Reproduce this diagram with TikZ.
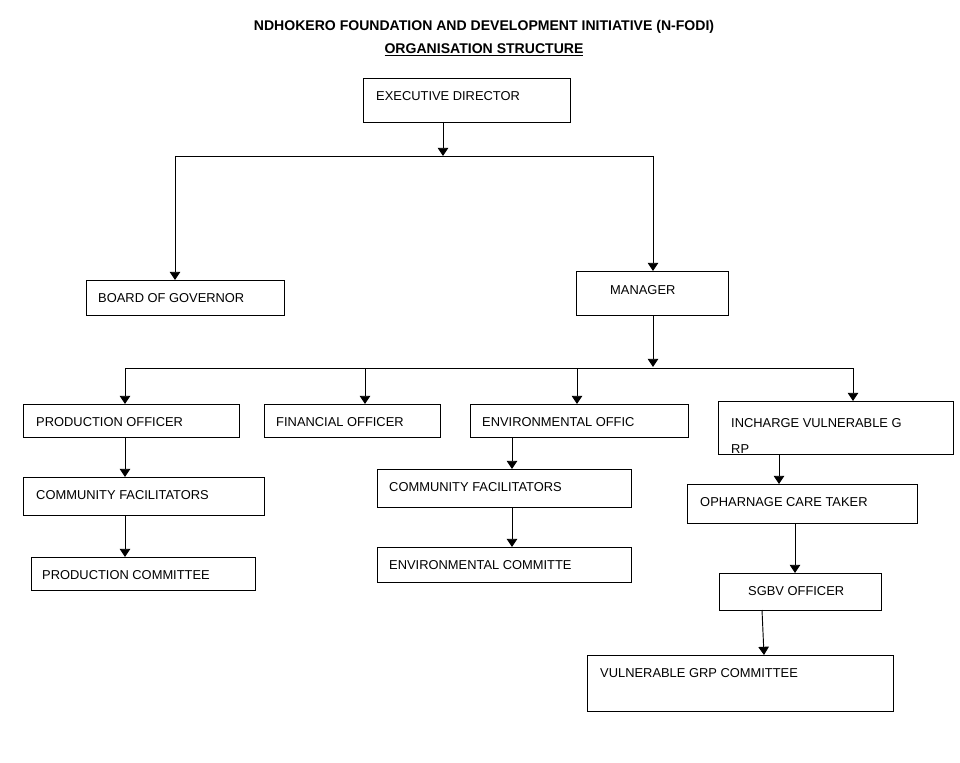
\documentclass[tikz,border=0pt]{standalone}
\usepackage{fontspec}
\setmainfont{Liberation Sans}
\usetikzlibrary{arrows.meta}
\begin{document}
\begin{tikzpicture}[x=0.03cm,y=-0.03cm,
  bx/.style={draw,line width=0.8pt},
  lbl/.style={anchor=west,font=\fontsize{11}{13}\selectfont,inner sep=0},
  ar/.style={line width=0.8pt,-{Triangle[width=9pt,length=7pt]}},
  ln/.style={line width=0.8pt}]
\useasboundingbox (0,0) rectangle (960,763);
\node[font=\bfseries\fontsize{12}{14}\selectfont] (t1) at (484,27) {NDHOKERO FOUNDATION AND DEVELOPMENT INITIATIVE (N-FODI)};
\node[font=\bfseries\fontsize{12}{14}\selectfont] (t2) at (484,50) {\underline{ORGANISATION STRUCTURE}};
% boxes
\draw[bx] (363,78) rectangle (570,122); \node[lbl] (ed) at (376,96) {EXECUTIVE DIRECTOR};
\draw[bx] (86,280) rectangle (284,315); \node[lbl] (bg) at (98,298) {BOARD OF GOVERNOR};
\draw[bx] (576,271) rectangle (728,315); \node[lbl] (mg) at (610,290) {MANAGER};
\draw[bx] (23,404) rectangle (239,437); \node[lbl] (po) at (36,422) {PRODUCTION OFFICER};
\draw[bx] (264,404) rectangle (440,437); \node[lbl] (fo) at (276,422) {FINANCIAL OFFICER};
\draw[bx] (470,404) rectangle (688,437); \node[lbl] (eo) at (482,422) {ENVIRONMENTAL OFFIC};
\begin{scope}
\clip (718,401) rectangle (953,454);
\node[lbl] (iv) at (731,423) {INCHARGE VULNERABLE G};
\node[lbl] (iv2) at (731,449) {RP};
\end{scope}
\draw[bx] (718,401) rectangle (953,454);
\draw[bx] (23,477) rectangle (264,515); \node[lbl] (cf1) at (36,495) {COMMUNITY FACILITATORS};
\draw[bx] (31,557) rectangle (255,590); \node[lbl] (pc) at (42,575) {PRODUCTION COMMITTEE};
\draw[bx] (377,469) rectangle (631,507); \node[lbl] (cf2) at (389,487) {COMMUNITY FACILITATORS};
\draw[bx] (377,547) rectangle (631,582); \node[lbl] (ec) at (389,565) {ENVIRONMENTAL COMMITTE};
\draw[bx] (687,484) rectangle (917,523); \node[lbl] (oc) at (700,502) {OPHARNAGE CARE TAKER};
\draw[bx] (719,573) rectangle (881,610); \node[lbl] (sg) at (748,591) {SGBV OFFICER};
\draw[bx] (587,655) rectangle (893,711); \node[lbl] (vc) at (600,673) {VULNERABLE GRP COMMITTEE};
% connectors
\coordinate (a1) at (443,122); \coordinate (a2) at (443,156);
\draw[ar] (a1) -- (a2);
\coordinate (h1) at (175,156); \coordinate (h2) at (653,156);
\draw[ln] (h1) -- (h2);
\coordinate (b1) at (175,280); \coordinate (b2) at (653,271);
\draw[ar] (h1) -- (b1); \draw[ar] (h2) -- (b2);
\coordinate (m1) at (653,315); \coordinate (m2) at (653,367);
\draw[ar] (m1) -- (m2);
\coordinate (g1) at (125,368); \coordinate (g2) at (853,368);
\draw[ln] (g1) -- (g2);
\coordinate (g3) at (365,368); \coordinate (g4) at (577,368);
\draw[ar] (g1) -- (125,404);
\draw[ar] (g3) -- (365,404);
\draw[ar] (g4) -- (577,404);
\draw[ar] (g2) -- (853,401);
\draw[ar] (125,437) -- (125,477);
\draw[ar] (125,515) -- (125,557);
\draw[ar] (512,437) -- (512,469);
\draw[ar] (512,507) -- (512,547);
\draw[ar] (779,454) -- (779,484);
\draw[ar] (795,523) -- (795,573);
\draw[ar] (762,610) -- (764,655);
\end{tikzpicture}
\end{document}
